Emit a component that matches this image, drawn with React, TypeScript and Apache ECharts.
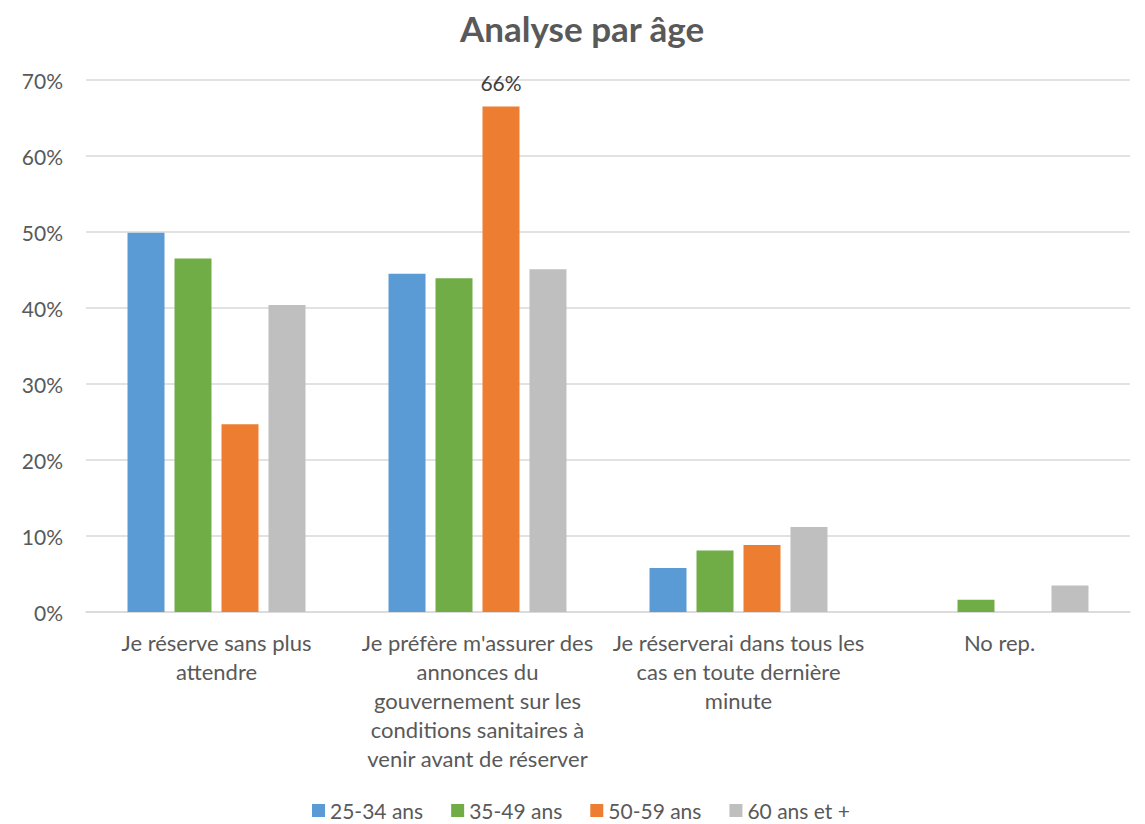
import React, { useEffect, useRef } from "react";
import * as echarts from "echarts";

const categories = [
  "Je réserve sans plus\nattendre",
  "Je préfère m'assurer des\nannonces du\ngouvernement sur les\nconditions sanitaires à\nvenir avant de réserver",
  "Je réserverai dans tous les\ncas en toute dernière\nminute",
  "No rep.",
];
const seriesNames = ["25-34 ans", "35-49 ans", "50-59 ans", "60 ans et +"];
const colors = ["#5B9BD5", "#70AD47", "#ED7D31", "#BFBFBF"];
const values25_34 = [49.9, 44.5, 5.8, 0];
const values35_49 = [46.5, 43.9, 8.1, 1.6];
const values50_59 = [24.7, 66.5, 8.8, 0];
const values60plus = [40.4, 45.1, 11.2, 3.5];
const yTicks = { min: 0, max: 70, interval: 10 };

const FONT = "Lato, 'Noto Sans', sans-serif";

export default function App() {
  const ref = useRef<HTMLDivElement>(null);
  useEffect(() => {
    if (!ref.current) return;
    const chart = echarts.init(ref.current, undefined, { renderer: "svg" });
    const all = [values25_34, values35_49, values50_59, values60plus];
    chart.setOption({
      animation: false,
      backgroundColor: "#FFFFFF",
      textStyle: { fontFamily: FONT },
      title: {
        text: "Analyse par âge",
        left: 455,
        top: 5,
        textStyle: { fontSize: 35, fontWeight: "bold", color: "#595959", fontFamily: FONT },
      },
      grid: { left: 86, right: 15, top: 80, bottom: 212 },
      legend: {
        top: 795,
        left: 307,
        itemWidth: 13,
        itemHeight: 13,
        itemGap: 28,
        itemStyle: { borderWidth: 0 },
        icon: "rect",
        textStyle: { fontSize: 21, color: "#595959", fontFamily: FONT },
        data: seriesNames,
      },
      xAxis: {
        type: "category",
        data: categories,
        axisTick: { show: false },
        axisLine: { lineStyle: { color: "#D9D9D9", width: 1.5 } },
        axisLabel: {
          fontSize: 22,
          color: "#595959",
          lineHeight: 29,
          margin: 16,
          interval: 0,
          fontFamily: FONT,
        },
      },
      yAxis: {
        type: "value",
        min: yTicks.min,
        max: yTicks.max,
        interval: yTicks.interval,
        axisLine: { show: false },
        axisTick: { show: false },
        splitLine: { lineStyle: { color: "#D9D9D9", width: 1.5 } },
        axisLabel: {
          formatter: "{value}%",
          fontSize: 21,
          color: "#595959",
          margin: 23,
          fontFamily: FONT,
        },
      },
      series: seriesNames.map((name, i) => ({
        name,
        type: "bar",
        data: all[i].map((v, j) =>
          i === 2 && j === 1
            ? {
                value: v,
                label: {
                  show: true,
                  position: "top",
                  distance: 14,
                  formatter: (p: any) => Math.floor(p.value) + "%",
                  fontSize: 21,
                  color: "#404040",
                  fontFamily: FONT,
                },
              }
            : v
        ),
        barWidth: 37,
        barGap: "27%",
        itemStyle: { color: colors[i] },
      })),
    });
    return () => chart.dispose();
  }, []);
  return (
    <div
      ref={ref}
      style={{ position: "fixed", left: 0, top: 0, width: 1145, height: 824 }}
    />
  );
}
